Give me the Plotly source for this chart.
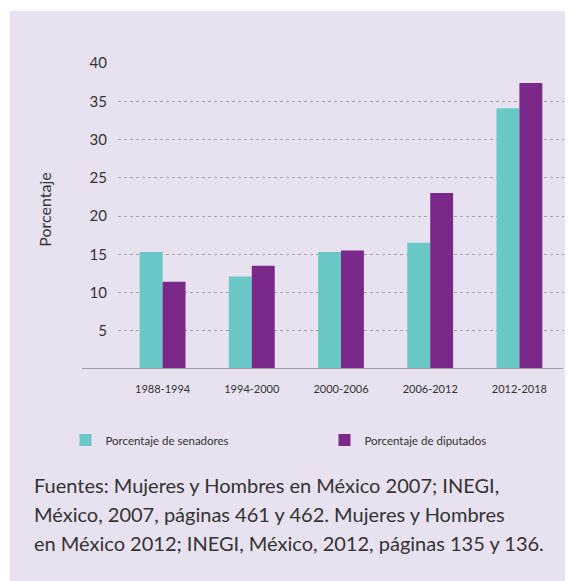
import plotly.graph_objects as go

periodos = ["1988-1994", "1994-2000", "2000-2006", "2006-2012", "2012-2018"]
senadores = [15.3, 12.1, 15.3, 16.5, 34.1]
diputados = [11.4, 13.5, 15.5, 23.0, 37.4]
y_ticks = [5, 10, 15, 20, 25, 30, 35, 40]
fuentes = [
    "Fuentes: Mujeres y Hombres en México 2007; INEGI,",
    "México, 2007, páginas 461 y 462. Mujeres y Hombres",
    "en México 2012; INEGI, México, 2012, páginas 135 y 136.",
]

OFF = 8  # page body margin offset
W, H = 573 - OFF, 581 - OFF

def fx(p):  # screen px -> figure px
    return p - OFF

# plot area in screen px
PL, PR, PT, PB = 118, 564, 63, 369.5
L, T = fx(PL), fx(PT)
R, B = W - fx(PR), H - fx(PB)
PW = W - L - R
PH = H - T - B

def px_x(p):
    return (fx(p) - L) / PW

def px_y(p):
    return (H - B - fx(p)) / PH

FONT = "Lato"
TXT = "#333333"
BG = "#e8e1ef"

fig = go.Figure()
fig.add_trace(go.Bar(name="Porcentaje de senadores", x=periodos, y=senadores,
                     marker=dict(color="#69c8c5", line=dict(width=0)),
                     legend="legend"))
fig.add_trace(go.Bar(name="Porcentaje de diputados", x=periodos, y=diputados,
                     marker=dict(color="#7a288a", line=dict(width=0)),
                     legend="legend2"))

leg_common = dict(xref="container", yref="container", xanchor="left",
                  yanchor="middle", font=dict(size=11.5, color=TXT),
                  bgcolor="rgba(0,0,0,0)", itemwidth=30, orientation="h")

annotations = [
    dict(text="Porcentaje", xref="paper", yref="paper", x=px_x(45), y=px_y(210),
         xanchor="center", yanchor="middle", textangle=-90, showarrow=False,
         font=dict(size=16, color=TXT, family=FONT)),
]
for i, line in enumerate(fuentes):
    annotations.append(dict(
        text=line, xref="paper", yref="paper", x=px_x(32), y=px_y(472 + 29 * i),
        xanchor="left", yanchor="top", align="left", showarrow=False,
        font=dict(size=20, color=TXT, family=FONT)))

fig.update_layout(
    width=W, height=H,
    margin=dict(l=L, r=R, t=T, b=B, autoexpand=False),
    paper_bgcolor="white",
    plot_bgcolor="rgba(0,0,0,0)",
    barmode="group",
    bargap=0.486,
    bargroupgap=0,
    font=dict(family=FONT, color=TXT),
    showlegend=True,
    legend=dict(x=(fx(85.5) - 20) / W, y=1 - fx(440) / H, **leg_common),
    legend2=dict(x=(fx(344.5) - 20) / W, y=1 - fx(440) / H, **leg_common),
    xaxis=dict(showgrid=False, showline=False, zeroline=False,
               tickfont=dict(size=11, color=TXT), ticks="",
               ticklabelstandoff=12, fixedrange=True),
    yaxis=dict(range=[0, 40], tickvals=y_ticks, showline=False, zeroline=False,
               showgrid=True, gridcolor="#a8a3ab", gridwidth=1, griddash="dot",
               tickfont=dict(size=15, color=TXT), ticks="",
               ticklabelstandoff=10, fixedrange=True),
    shapes=[
        dict(type="rect", xref="paper", yref="paper", layer="below",
             x0=px_x(10), x1=px_x(600), y0=px_y(600), y1=px_y(11),
             fillcolor=BG, line=dict(width=0)),
        dict(type="line", xref="paper", yref="y", x0=px_x(82), x1=px_x(563),
             y0=0, y1=0, line=dict(color="#a39ea6", width=2)),
    ],
    annotations=annotations,
)

fig.write_html("out.html")
